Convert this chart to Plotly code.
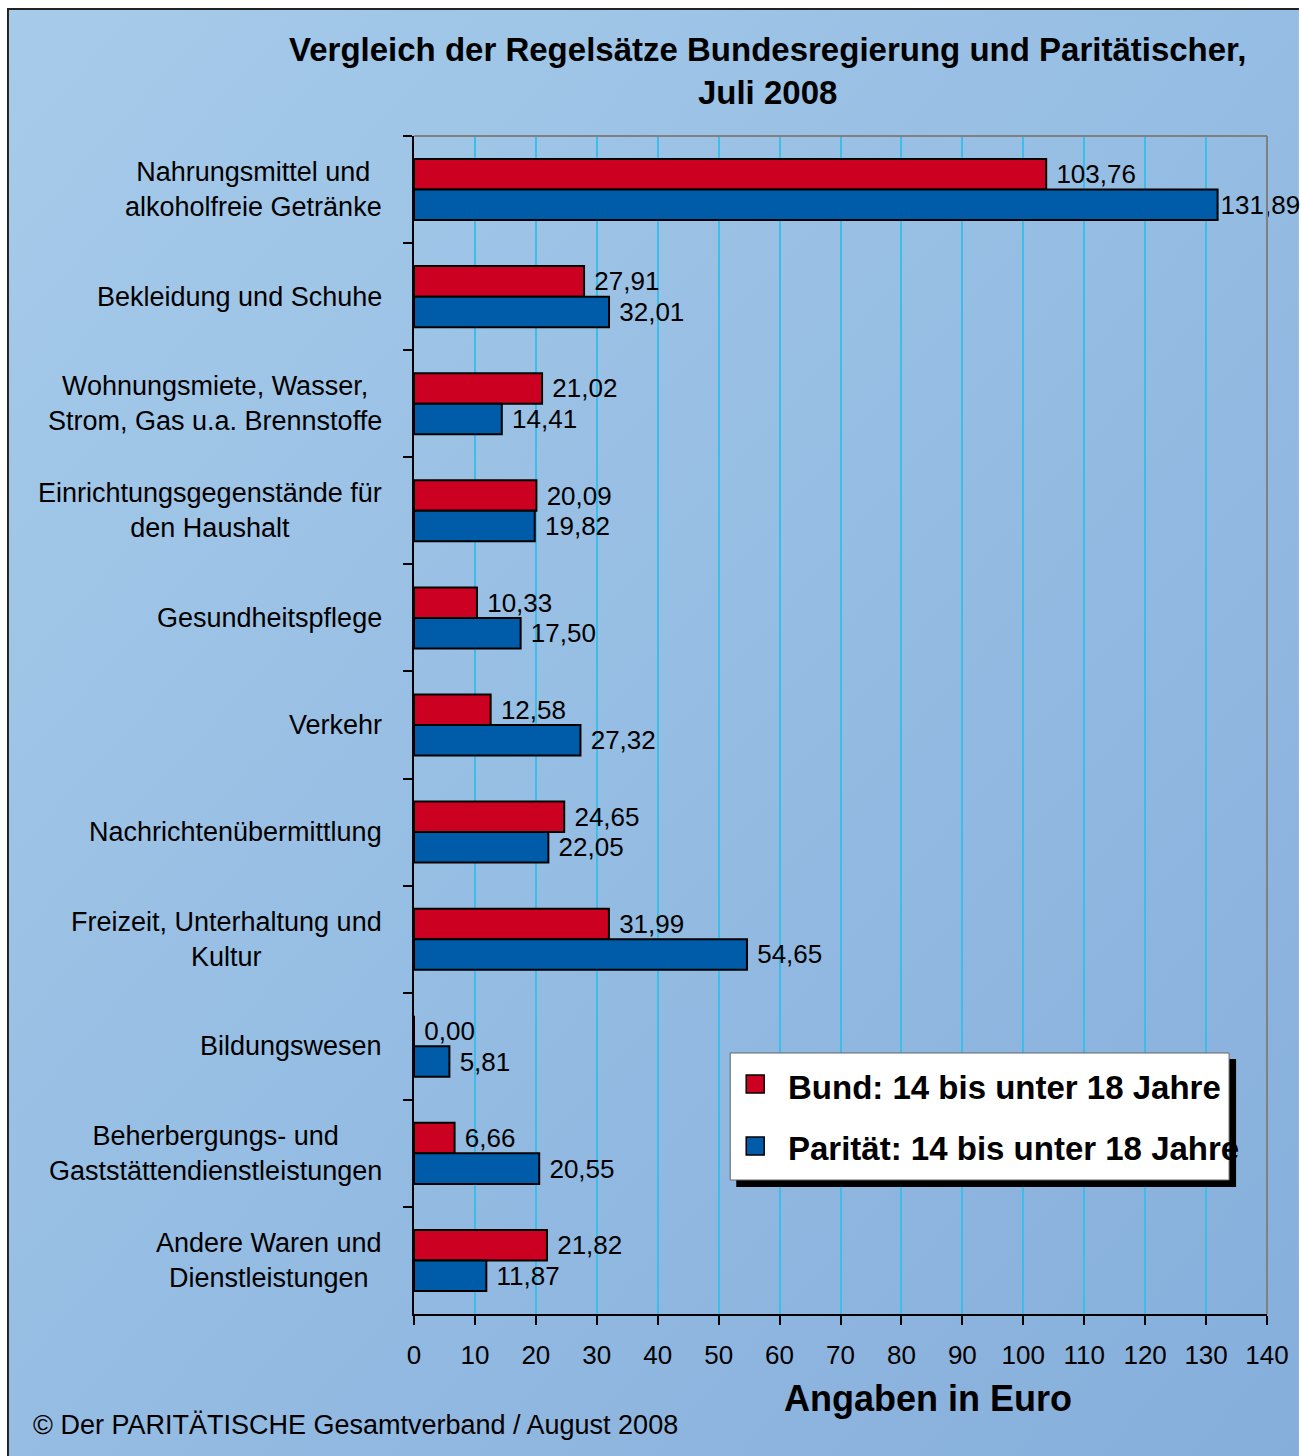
import base64
import plotly.graph_objects as go

# ---------------- data ----------------
categories = [
    "Nahrungsmittel und<br>alkoholfreie Getränke",
    "Bekleidung und Schuhe",
    "Wohnungsmiete, Wasser,<br>Strom, Gas u.a. Brennstoffe",
    "Einrichtungsgegenstände für<br>den Haushalt",
    "Gesundheitspflege",
    "Verkehr",
    "Nachrichtenübermittlung",
    "Freizeit, Unterhaltung und<br>Kultur",
    "Bildungswesen",
    "Beherbergungs- und<br>Gaststättendienstleistungen",
    "Andere Waren und<br>Dienstleistungen",
]
bund = [103.76, 27.91, 21.02, 20.09, 10.33, 12.58, 24.65, 31.99, 0.00, 6.66, 21.82]
paritaet = [131.89, 32.01, 14.41, 19.82, 17.50, 27.32, 22.05, 54.65, 5.81, 20.55, 11.87]
series_names = ["Bund: 14 bis unter 18 Jahre", "Parität: 14 bis unter 18 Jahre"]
x_ticks = list(range(0, 141, 10))
title_text = "Vergleich der Regelsätze Bundesregierung und Paritätischer,<br>Juli 2008"
x_title = "Angaben in Euro"
footer = "© Der PARITÄTISCHE Gesamtverband / August 2008"

# ---------------- layout geometry (pixels) ----------------
W, H = 1301, 1456
PL, PT, PR, PB = 414, 136, 1269, 1314   # plot area in page pixels
L, T, R, B = PL, PT, W - PR, H - PB
PW = W - L - R
PH = H - T - B
BX, BY = 6, 8                            # outer framed background origin
FONT = "Liberation Sans, Arial, sans-serif"
RED = "#cc0020"
BLUE = "#005ca8"


def px(x):
    return (x - PL) / PW


def py(y):
    return (PB - y) / PH


def fmt(v, pad=True):
    s = f"{v:.2f}".replace(".", ",")
    return (" " + s) if pad else s


bund_txt = [fmt(v, v < 130) for v in bund]
par_txt = [fmt(v, v < 130) for v in paritaet]

fig = go.Figure()
fig.add_trace(go.Bar(
    y=categories, x=bund, orientation="h", name=series_names[0],
    marker=dict(color=RED, line=dict(color="black", width=2)),
    text=bund_txt, textposition="outside", constraintext="none", cliponaxis=False,
    textfont=dict(family=FONT, size=26, color="black"),
))
fig.add_trace(go.Bar(
    y=categories, x=paritaet, orientation="h", name=series_names[1],
    marker=dict(color=BLUE, line=dict(color="black", width=2)),
    text=par_txt, textposition="outside", constraintext="none", cliponaxis=False,
    textfont=dict(family=FONT, size=26, color="black"),
))

# background gradient as svg image
GW, GH = W - BX, H - BY
svg = f'''<svg xmlns="http://www.w3.org/2000/svg" width="{GW}" height="{GH}" viewBox="0 0 {GW} {GH}" preserveAspectRatio="none">
<defs><linearGradient id="g" x1="0" y1="0" x2="1" y2="1">
<stop offset="0" stop-color="#a6cbea"/><stop offset="1" stop-color="#85aedb"/></linearGradient></defs>
<rect x="0" y="0" width="{GW}" height="{GH}" fill="url(#g)"/>
<line x1="1" y1="0" x2="1" y2="{GH}" stroke="#222" stroke-width="2"/>
<line x1="0" y1="1" x2="{GW}" y2="1" stroke="#222" stroke-width="2"/>
</svg>'''
src = "data:image/svg+xml;base64," + base64.b64encode(svg.encode()).decode()

shapes = [
    dict(type="line", xref="paper", yref="paper", x0=0, x1=1, y0=1, y1=1,
         line=dict(color="#808080", width=2), layer="above"),
    dict(type="line", xref="paper", yref="paper", x0=1, x1=1, y0=0, y1=1,
         line=dict(color="#808080", width=2), layer="above"),
    dict(type="rect", xref="paper", yref="paper", x0=px(737), x1=px(1238), y0=py(1187), y1=py(1059),
         fillcolor="black", line=dict(width=0), layer="above"),
    dict(type="rect", xref="paper", yref="paper", x0=px(731), x1=px(1231), y0=py(1180), y1=py(1053),
         fillcolor="white", line=dict(color="#666666", width=1), layer="above"),
    dict(type="rect", xref="paper", yref="paper", x0=px(747), x1=px(765), y0=py(1093), y1=py(1075),
         fillcolor=RED, line=dict(color="black", width=1.5), layer="above"),
    dict(type="rect", xref="paper", yref="paper", x0=px(747), x1=px(765), y0=py(1155), y1=py(1137),
         fillcolor=BLUE, line=dict(color="black", width=1.5), layer="above"),
]

annotations = []
for c in categories:
    annotations.append(dict(
        x=px(384), xref="paper", y=c, yref="y", text=c, showarrow=False,
        xanchor="right", yanchor="middle", align="center",
        font=dict(family=FONT, size=27, color="black"),
    ))
annotations += [
    dict(x=px(768), xref="paper", y=py(71), yref="paper", text=title_text, showarrow=False,
         xanchor="center", yanchor="middle", align="center",
         font=dict(family=FONT, size=33, color="black", weight="bold")),
    dict(x=px(929), xref="paper", y=py(1398), yref="paper", text=x_title, showarrow=False,
         xanchor="center", yanchor="middle",
         font=dict(family=FONT, size=36, color="black", weight="bold")),
    dict(x=px(30), xref="paper", y=py(1425), yref="paper", text=footer, showarrow=False,
         xanchor="left", yanchor="middle",
         font=dict(family=FONT, size=27, color="black")),
    dict(x=px(787), xref="paper", y=py(1087), yref="paper", text=series_names[0], showarrow=False,
         xanchor="left", yanchor="middle",
         font=dict(family=FONT, size=33, color="black", weight="bold")),
    dict(x=px(787), xref="paper", y=py(1148), yref="paper", text=series_names[1], showarrow=False,
         xanchor="left", yanchor="middle",
         font=dict(family=FONT, size=33, color="black", weight="bold")),
]

fig.update_layout(
    width=W, height=H,
    margin=dict(l=L, r=R, t=T, b=B, pad=0),
    paper_bgcolor="white",
    plot_bgcolor="#d3ebf3",
    barmode="group", bargap=0.43, bargroupgap=0,
    showlegend=False,
    font=dict(family=FONT, size=26, color="black"),
    images=[dict(source=src, xref="paper", yref="paper", x=px(BX), y=py(BY),
                 sizex=GW / PW, sizey=GH / PH, sizing="stretch",
                 xanchor="left", yanchor="top", layer="below")],
    shapes=shapes,
    annotations=annotations,
    xaxis=dict(range=[0, 140], tickvals=x_ticks, ticktext=[str(v) for v in x_ticks],
               showgrid=True, gridcolor="#3dbdea", gridwidth=1.5,
               showline=True, linecolor="black", linewidth=1.5,
               ticks="outside", ticklen=9, tickcolor="black", tickwidth=1.5,
               tickfont=dict(family=FONT, size=26, color="black"), zeroline=False,
               ticklabelstandoff=8),
    yaxis=dict(type="category", autorange="reversed", tickson="boundaries",
               showticklabels=False, showgrid=False, zeroline=False,
               showline=True, linecolor="black", linewidth=1.5,
               ticks="outside", ticklen=9, tickcolor="black", tickwidth=1.5),
)

fig.write_html(
    "out.html",
    config={"displayModeBar": False},
    post_script="document.body.style.margin='0';document.body.style.overflow='hidden';",
)
